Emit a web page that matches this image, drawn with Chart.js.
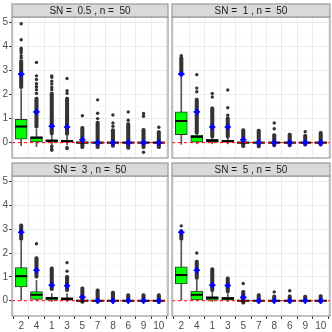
<!DOCTYPE html>
<html>
<head>
<meta charset="utf-8">
<script src="https://cdn.jsdelivr.net/npm/chart.js@4.4.0/dist/chart.umd.min.js"></script>
<style>
  body { margin: 0; background: #fff; }
  #wrap { position: relative; width: 332px; height: 332px; }
  canvas { position: absolute; }
</style>
</head>
<body>
<div id="wrap">
  <canvas id="p0" width="170" height="160" style="left:0;top:0"></canvas>
  <canvas id="p1" width="162" height="160" style="left:170px;top:0"></canvas>
  <canvas id="p2" width="170" height="172" style="left:0;top:160px"></canvas>
  <canvas id="p3" width="162" height="172" style="left:170px;top:160px"></canvas>
</div>
<script>
const categories = ['2', '4', '1', '3', '5', '7', '8', '6', '9', '10'];
const panelTitles = ['SN =  0.5 , n =  50', 'SN =  1 , n =  50', 'SN =  3 , n =  50', 'SN =  5 , n =  50'];
const yTicks = [-0.5, 0, 0.5, 1, 1.5, 2, 2.5, 3, 3.5, 4, 4.5, 5];

// one row per panel, one value per category
const q1 = [
  [0.14, 0.03, 0.00, 0.00, -0.02, -0.02, -0.02, -0.02, -0.02, -0.02],
  [0.33, 0.00, 0.00, 0.00, -0.02, -0.02, -0.02, -0.02, -0.02, -0.02],
  [0.58, 0.06, 0.00, 0.00, -0.02, -0.02, -0.02, -0.02, -0.02, -0.02],
  [0.70, 0.03, 0.00, 0.00, -0.02, -0.02, -0.02, -0.02, -0.02, -0.02]
];
const median = [
  [0.67, 0.20, 0.08, 0.06, 0, 0, 0, 0, 0, 0],
  [0.90, 0.24, 0.08, 0.06, 0, 0, 0, 0, 0, 0],
  [1.03, 0.25, 0.10, 0.07, 0, 0, 0, 0, 0, 0],
  [1.08, 0.25, 0.12, 0.09, 0, 0, 0, 0, 0, 0]
];
const q3 = [
  [0.97, 0.25, 0.12, 0.11, 0.03, 0.02, 0.02, 0.02, 0.02, 0.02],
  [1.28, 0.31, 0.14, 0.10, 0.03, 0.02, 0.02, 0.02, 0.02, 0.02],
  [1.39, 0.38, 0.14, 0.13, 0.03, 0.02, 0.02, 0.02, 0.02, 0.02],
  [1.42, 0.40, 0.17, 0.14, 0.03, 0.02, 0.02, 0.02, 0.02, 0.02]
];
const whiskerLo = [
  [-0.13, -0.17, -0.08, -0.08, -0.08, -0.08, -0.08, -0.08, -0.08, -0.08],
  [-0.07, -0.05, -0.05, -0.05, -0.08, -0.08, -0.08, -0.08, -0.08, -0.08],
  [0.03, 0.00, -0.03, -0.03, -0.08, -0.08, -0.08, -0.08, -0.08, -0.08],
  [0.00, 0.00, -0.03, -0.03, -0.08, -0.08, -0.08, -0.08, -0.08, -0.08]
];
const whiskerHi = [
  [2.20, 0.55, 0.30, 0.28, 0.10, 0.08, 0.08, 0.08, 0.08, 0.08],
  [2.72, 0.75, 0.35, 0.25, 0.08, 0.08, 0.08, 0.08, 0.08, 0.08],
  [2.50, 0.85, 0.30, 0.30, 0.08, 0.08, 0.08, 0.08, 0.08, 0.08],
  [2.50, 0.90, 0.35, 0.30, 0.08, 0.08, 0.08, 0.08, 0.08, 0.08]
];
const means = [
  [2.85, 1.28, 0.68, 0.65, 0.12, 0, 0, 0, 0, 0],
  [2.85, 1.28, 0.65, 0.65, 0.12, 0, 0, 0, 0, 0],
  [2.87, 1.28, 0.65, 0.63, 0.15, 0, 0, 0, 0, 0],
  [2.87, 1.28, 0.65, 0.64, 0.14, 0, 0, 0, 0, 0]
];
// packed runs of outliers, low and high end
const denseLo = [
  [2.25, 0.60, 0.32, 0.30, -0.25, -0.25, -0.20, -0.28, -0.25, -0.25],
  [2.80, 0.35, 0.20, 0.20, -0.21, -0.22, -0.18, -0.18, -0.15, -0.15],
  [2.53, 0.95, 0.42, 0.38, -0.11, -0.10, -0.10, -0.08, -0.08, -0.12],
  [2.53, 0.90, 0.38, 0.33, -0.14, -0.10, -0.08, -0.10, -0.08, -0.10]
];
const denseHi = [
  [3.45, 1.90, 2.10, 1.90, 0.68, 0.90, 0.58, 0.83, 0.60, 0.50],
  [3.58, 1.85, 1.49, 1.07, 0.58, 0.56, 0.38, 0.40, 0.35, 0.47],
  [3.22, 1.85, 1.42, 1.07, 0.58, 0.50, 0.40, 0.30, 0.30, 0.30],
  [2.97, 1.70, 1.39, 1.00, 0.44, 0.30, 0.25, 0.25, 0.24, 0.26]
];
// single outliers away from the packed runs
const outliers = [
  [[4.95, 4.28, 3.93, 3.85, 3.75, 3.62, 3.52], [3.34, 2.78, 2.63, 2.45, 2.33, 2.20, 2.05],
   [2.78, 2.72, 2.56, 2.44, 2.30, 2.20, -0.15, -0.25, -0.32], [2.67, 2.16, 2.05, -0.20, -0.25],
   [1.12], [1.78, 1.22, 1.00], [1.15, 0.82, 0.68], [1.28, 0.93], [1.21, 1.10, -0.40], [0.64]],
  [[3.62], [2.83, 2.27, 2.12], [2.05, 1.90], [2.19, 1.45, 1.14], [], [], [0.82, 0.58], [], [0.45], []],
  [[], [2.39], [], [1.60, 1.24], [], [], [], [], [], []],
  [[3.14], [2.00], [], [], [0.72], [], [0.37], [0.42], [], []]
];

Chart.defaults.font.family = '"Liberation Sans", Arial, sans-serif';
Chart.defaults.font.size = 10;
Chart.defaults.color = '#4d4d4d';

// panel frame and grey strip label on top of it
const stripPlugin = {
  id: 'strip',
  afterDraw(chart, args, opts) {
    const { ctx, chartArea: a } = chart;
    const h = 13;
    ctx.save();
    ctx.strokeStyle = '#9a9a9a';
    ctx.lineWidth = 1.2;
    ctx.strokeRect(a.left, a.top, a.right - a.left, a.bottom - a.top);
    ctx.fillStyle = '#d9d9d9';
    ctx.fillRect(a.left, a.top - h, a.right - a.left, h);
    ctx.strokeRect(a.left, a.top - h, a.right - a.left, h);
    ctx.fillStyle = '#1a1a1a';
    ctx.font = '10px "Liberation Sans", Arial, sans-serif';
    ctx.textAlign = 'center';
    ctx.textBaseline = 'middle';
    ctx.fillText(opts.text, (a.left + a.right) / 2, a.top - h / 2 + 0.5);
    ctx.restore();
  }
};

function pts(arr) {
  return arr.map((v, i) => ({ x: i + 1, y: v }));
}

function noPad(s) {
  s.paddingTop = 0;
  s.paddingBottom = 0;
  s.paddingLeft = 0;
  s.paddingRight = 0;
}

function makePanel(id, p, showX, showY) {
  const ranges = (lo, hi) => lo.map((v, i) => ({ x: i + 1, y: [v, hi[i]] }));
  const outPts = [];
  outliers[p].forEach((list, i) => list.forEach(v => outPts.push({ x: i + 1, y: v })));

  const datasets = [
    { type: 'scatter', data: pts(means[p]), pointStyle: 'cross', pointRadius: 3.2,
      borderColor: '#0000ff', borderWidth: 1.6, order: 0 },
    { type: 'scatter', data: pts(means[p]), pointStyle: 'circle', pointRadius: 2.3,
      backgroundColor: '#0000ff', borderWidth: 0, order: 0 },
    { type: 'line', data: [{ x: 0.4, y: 0 }, { x: 10.6, y: 0 }], borderColor: '#ff0000',
      borderWidth: 1, borderDash: [3, 3], pointRadius: 0, order: 1 },
    { type: 'scatter', data: pts(median[p]), pointStyle: 'line', pointRadius: 6,
      borderColor: '#000000', borderWidth: 2, order: 2 },
    { type: 'bar', data: ranges(q1[p], q3[p]), backgroundColor: '#00ff00', borderColor: '#333333',
      borderWidth: 1, borderSkipped: false, barThickness: 12, grouped: false, order: 3 },
    { type: 'scatter', data: outPts, pointRadius: 1.7, backgroundColor: '#333333',
      borderWidth: 0, order: 4 },
    { type: 'bar', data: ranges(denseLo[p], denseHi[p]), backgroundColor: '#333333',
      borderWidth: 0, borderRadius: 1.7, borderSkipped: false, barThickness: 3.4, grouped: false, order: 4 },
    { type: 'bar', data: ranges(whiskerLo[p], whiskerHi[p]), backgroundColor: '#555555',
      borderWidth: 0, barThickness: 1, grouped: false, order: 5 }
  ];

  new Chart(document.getElementById(id), {
    type: 'bar',
    data: { datasets: datasets },
    plugins: [stripPlugin],
    options: {
      responsive: false,
      animation: false,
      layout: { autoPadding: false, padding: { top: showX ? 16 : 17, right: 2, left: 0, bottom: 0 } },
      plugins: {
        legend: { display: false },
        tooltip: { enabled: false },
        strip: { text: panelTitles[p] }
      },
      scales: {
        x: {
          type: 'linear', min: 0.4, max: 10.6, offset: false,
          afterBuildTicks: s => { s.ticks = categories.map((c, i) => ({ value: i + 1 })); },
          afterFit: s => { s.height = showX ? 16 : 2; noPad(s); },
          ticks: { display: showX, padding: 1, maxRotation: 0, autoSkip: false,
            callback: v => categories[v - 1] },
          grid: { color: '#ebebeb', lineWidth: 1, tickLength: 3,
            tickColor: showX ? '#333333' : 'rgba(0,0,0,0)' },
          border: { display: false }
        },
        y: {
          type: 'linear', min: -0.64, max: 5.23,
          afterBuildTicks: s => { s.ticks = yTicks.map(v => ({ value: v })); },
          afterFit: s => { s.width = showY ? 12 : 2; noPad(s); },
          ticks: { display: showY, padding: 1, autoSkip: false,
            callback: v => Number.isInteger(v) ? String(v) : '' },
          grid: {
            color: c => Number.isInteger(c.tick.value) ? '#ebebeb' : '#f5f5f5',
            lineWidth: c => Number.isInteger(c.tick.value) ? 1 : 0.6,
            tickLength: 3,
            tickColor: c => (showY && Number.isInteger(c.tick.value)) ? '#333333' : 'rgba(0,0,0,0)'
          },
          border: { display: false }
        }
      }
    }
  });
}

makePanel('p0', 0, false, true);
makePanel('p1', 1, false, false);
makePanel('p2', 2, true, true);
makePanel('p3', 3, true, false);
</script>
</body>
</html>
